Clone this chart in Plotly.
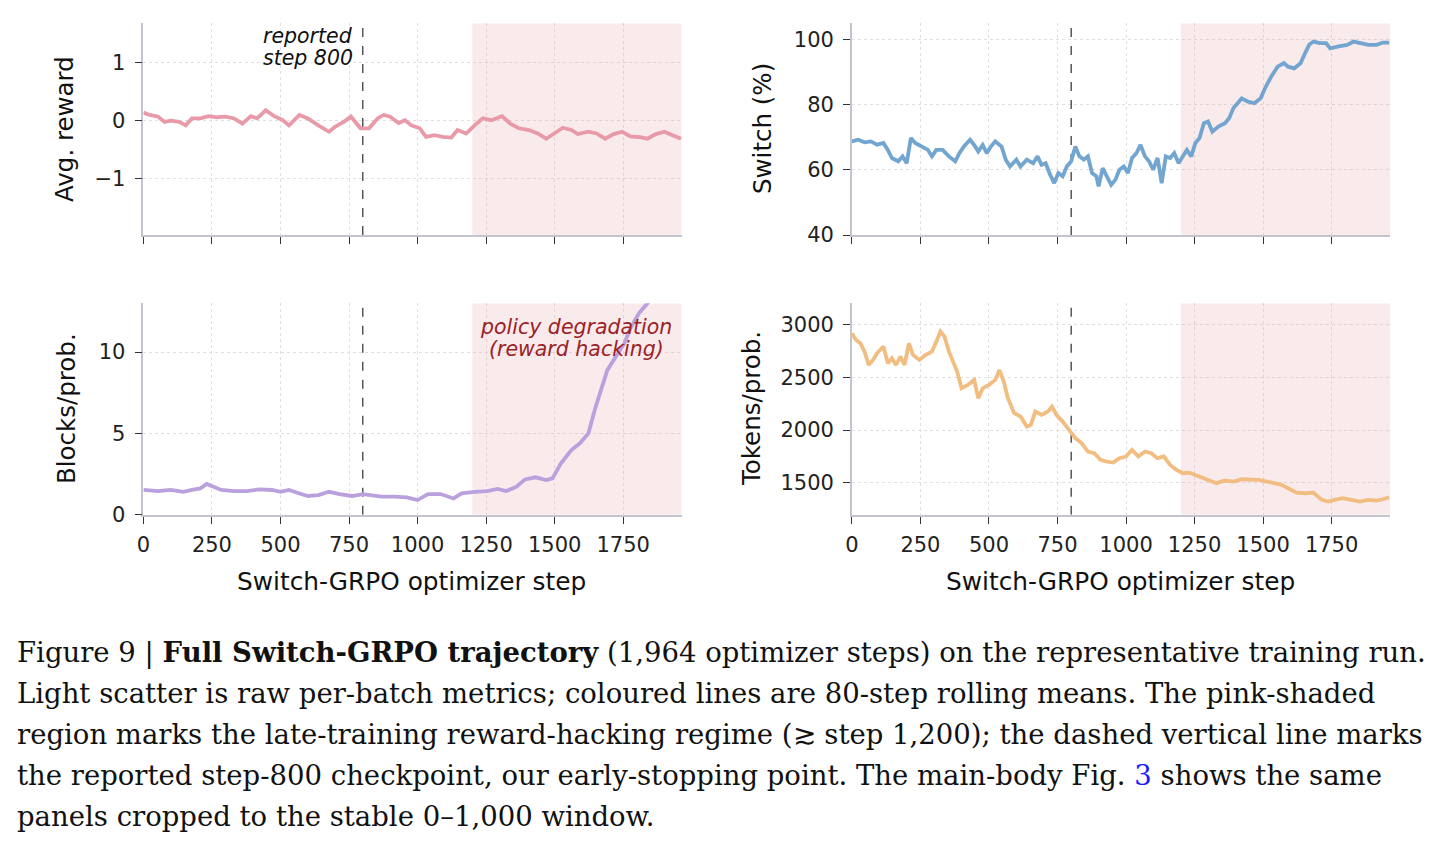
import plotly.graph_objects as go

W, H = 1448, 849

# ---------------- data (rolling means) ----------------
reward_steps = [0, 23, 54, 77, 100, 131, 154, 177, 208, 238, 269, 300, 331, 361, 392, 415, 446, 477, 508, 531,
                569, 600, 638, 677, 700, 731, 757, 792, 823, 854, 877, 900, 931, 954, 977, 1008, 1031, 1061, 1092,
                1123, 1146, 1177, 1208, 1238, 1269, 1308, 1338, 1369, 1407, 1438, 1469, 1500, 1530, 1561, 1584,
                1623, 1653, 1684, 1715, 1746, 1776, 1807, 1838, 1869, 1900, 1930, 1961]
reward_mean = [0.13, 0.09, 0.06, -0.03, -0.01, -0.03, -0.09, 0.03, 0.03, 0.07, 0.05, 0.06, 0.03, -0.06, 0.07,
               0.03, 0.17, 0.07, 0.0, -0.09, 0.09, 0.03, -0.09, -0.20, -0.11, -0.03, 0.06, -0.14, -0.14, 0.03,
               0.09, 0.06, -0.05, 0.0, -0.09, -0.14, -0.29, -0.26, -0.29, -0.30, -0.17, -0.23, -0.09, 0.03, 0.0,
               0.07, -0.06, -0.14, -0.17, -0.23, -0.32, -0.23, -0.13, -0.17, -0.24, -0.20, -0.23, -0.32, -0.24,
               -0.20, -0.28, -0.29, -0.32, -0.24, -0.20, -0.26, -0.32]

switch_steps = [0, 23, 46, 69, 92, 115, 131, 146, 169, 185, 200, 215, 231, 254, 277, 292, 308, 331, 354, 377,
                392, 408, 431, 446, 461, 477, 492, 507, 523, 546, 561, 577, 600, 615, 638, 661, 677, 692, 707, 723,
                738, 753, 769, 784, 800, 815, 830, 846, 861, 876, 892, 900, 915, 930, 946, 961, 976, 992, 1007,
                1022, 1038, 1053, 1069, 1084, 1099, 1115, 1130, 1145, 1161, 1176, 1192, 1207, 1222, 1238, 1253,
                1268, 1284, 1299, 1315, 1338, 1361, 1376, 1392, 1407, 1422, 1445, 1468, 1491, 1507, 1530, 1553,
                1576, 1591, 1614, 1637, 1653, 1668, 1684, 1707, 1730, 1745, 1776, 1807, 1830, 1853, 1884, 1914,
                1937, 1960]
switch_mean = [68.7, 69.2, 68.4, 68.7, 67.7, 68.2, 66.1, 63.6, 62.6, 64.1,
               62.0, 69.7, 68.2, 67.1, 66.1, 64.1, 66.1, 66.1, 64.1, 62.6,
               65.1, 67.1, 69.2, 67.6, 65.6, 67.6, 65.1, 67.1, 68.7, 67.1,
               63.1, 61.0, 63.1, 61.0, 63.1, 62.0, 64.1, 61.5, 62.0, 58.5,
               55.9, 59.0, 58.0, 61.0, 62.6, 67.1, 64.1, 63.1, 64.1, 59.0,
               58.0, 54.9, 60.5, 58.0, 55.4, 56.9, 60.0, 61.0, 59.0, 63.6,
               65.1, 67.6, 64.1, 62.6, 60.0, 63.6, 55.9, 64.1, 63.6, 65.1,
               62.0, 64.1, 66.1, 64.1, 68.2, 69.7, 74.3, 74.8, 71.7, 73.3,
               74.3, 75.8, 78.9, 80.4, 81.9, 80.9, 80.4, 81.9, 85.0, 88.6,
               91.6, 92.7, 91.6, 91.1, 92.7, 95.7, 98.3, 99.3, 98.8, 98.8,
               97.2, 97.8, 98.3, 99.3, 98.8, 98.3, 98.3, 99.0, 99.0]

blocks_steps = [0, 54, 100, 146, 177, 208, 231, 254, 284, 331, 377, 423, 469, 500, 531, 561, 600, 638, 677, 715,
                761, 800, 838, 869, 915, 961, 1000, 1038, 1084, 1131, 1161, 1207, 1254, 1292, 1323, 1361, 1392,
                1430, 1469, 1492, 1523, 1561, 1592, 1623, 1646, 1669, 1692, 1723, 1754, 1776, 1807, 1838, 1870,
                1910, 1963]
blocks_mean = [1.52, 1.45, 1.52, 1.41, 1.52, 1.62, 1.89, 1.72, 1.52, 1.45,
               1.45, 1.56, 1.52, 1.41, 1.52, 1.35, 1.15, 1.21, 1.41, 1.27,
               1.15, 1.27, 1.21, 1.11, 1.11, 1.07, 0.90, 1.27, 1.27, 1.00,
               1.31, 1.41, 1.45, 1.58, 1.45, 1.72, 2.17, 2.30, 2.13, 2.23,
               3.16, 3.98, 4.39, 5.00, 6.43, 7.66, 8.89, 9.71, 10.53, 11.45,
               12.38, 12.99, 13.8, 14.6, 15.5]

tokens_steps = [0, 15, 31, 46, 61, 77, 92, 115, 131, 146, 161, 177, 192, 208, 223, 246, 269, 292, 308, 323,
                338, 354, 369, 384, 400, 423, 446, 461, 477, 500, 523, 538, 554, 569, 592, 615, 638, 653, 669, 692,
                715, 730, 746, 769, 792, 815, 838, 861, 884, 907, 930, 953, 976, 1000, 1022, 1045, 1069, 1092,
                1115, 1138, 1161, 1184, 1207, 1230, 1253, 1284, 1307, 1330, 1361, 1392, 1422, 1453, 1484, 1515,
                1545, 1568, 1591, 1622, 1653, 1684, 1714, 1737, 1760, 1791, 1822, 1853, 1884, 1914, 1937, 1960]
tokens_mean = [2915, 2852, 2820, 2742, 2616, 2663, 2726, 2789, 2631, 2679,
               2616, 2694, 2616, 2820, 2710, 2663, 2710, 2742, 2836, 2931,
               2883, 2742, 2647, 2553, 2395, 2427, 2474, 2301, 2395, 2427,
               2474, 2568, 2458, 2301, 2159, 2128, 2033, 2049, 2175, 2143,
               2175, 2222, 2143, 2080, 2002, 1923, 1876, 1797, 1781, 1718,
               1702, 1693, 1734, 1750, 1813, 1750, 1797, 1781, 1734, 1750,
               1671, 1624, 1592, 1598, 1576, 1545, 1529, 1498, 1523, 1513,
               1535, 1535, 1529, 1513, 1498, 1482, 1450, 1409, 1403, 1409,
               1340, 1324, 1340, 1356, 1340, 1324, 1340, 1334, 1346, 1365]

x_ticks = [0, 250, 500, 750, 1000, 1250, 1500, 1750]
total_steps = 1963
hack_start = 1200
report_step = 800

caption_lines = [
    "Figure 9 | <b>Full Switch-GRPO trajectory</b> (1,964 optimizer steps) on the representative training run.",
    "Light scatter is raw per-batch metrics; coloured lines are 80-step rolling means. The pink-shaded",
    "region marks the late-training reward-hacking regime (≳ step 1,200); the dashed vertical line marks",
    "the reported step-800 checkpoint, our early-stopping point. The main-body Fig. <span style='color:#1a1aff'>3</span> shows the same",
    "panels cropped to the stable 0–1,000 window.",
]

# ---------------- layout helpers ----------------
def px_x(p):
    return p / W

def px_y(p):
    return 1 - p / H

XL = [px_x(143.4), px_x(681.6)]
XR = [px_x(851.9), px_x(1390.0)]
YT = [px_y(235.0), px_y(23.3)]
YB = [px_y(514.7), px_y(303.3)]

FONT = "DejaVu Sans"
SPINE = "#c4c4cf"
GRID = "#e0e0e0"

panels = [
    ("x", "y", XL, YT, reward_steps, reward_mean, "#e89aa8", [-1.98, 1.67], [-1, 0, 1], False),
    ("x2", "y2", XR, YT, switch_steps, switch_mean, "#72a5cf", [40, 104.9], [40, 60, 80, 100], False),
    ("x3", "y3", XL, YB, blocks_steps, blocks_mean, "#bba0de", [0, 13.0], [0, 5, 10], True),
    ("x4", "y4", XR, YB, tokens_steps, tokens_mean, "#f2bd80", [1200, 3198], [1500, 2000, 2500, 3000], True),
]

fig = go.Figure()
layout = dict(
    width=W, height=H, margin=dict(l=0, r=0, t=0, b=0, pad=0, autoexpand=False),
    paper_bgcolor="white", plot_bgcolor="white", showlegend=False,
    font=dict(family=FONT, size=20, color="#222222"),
)
annotations = []

for i, (xa, ya, xd, yd, xs, ys, col, yr, yt, showx) in enumerate(panels):
    n = "" if i == 0 else str(i + 1)
    fig.add_trace(go.Scatter(x=[hack_start, total_steps, total_steps, hack_start, hack_start],
                             y=[yr[0], yr[0], yr[1], yr[1], yr[0]], mode="lines", fill="toself",
                             fillcolor="rgba(225,150,160,0.2)", line=dict(width=0),
                             xaxis=xa, yaxis=ya, hoverinfo="skip"))
    fig.add_trace(go.Scatter(x=[report_step, report_step], y=[yr[0], yr[1]], mode="lines",
                             line=dict(color="#555555", width=1.5, dash="dash"),
                             xaxis=xa, yaxis=ya, hoverinfo="skip"))
    fig.add_trace(go.Scatter(x=xs, y=ys, mode="lines", xaxis=xa, yaxis=ya,
                             line=dict(color=col, width=3.8), hoverinfo="skip"))
    layout["xaxis" + n] = dict(
        domain=xd, anchor=ya, range=[0, total_steps], tickvals=x_ticks, automargin=False,
        showticklabels=showx, ticks="outside", ticklen=7, tickwidth=1.3, tickcolor="#333333",
        showline=True, linecolor=SPINE, linewidth=1.6, zeroline=False,
        showgrid=True, gridcolor=GRID, griddash="dot", gridwidth=1,
        tickfont=dict(size=21, family=FONT, color="#222222"), ticklabelstandoff=3,
    )
    ydict = dict(
        domain=yd, anchor=xa, range=yr, tickvals=yt, automargin=False,
        ticks="outside", ticklen=7, tickwidth=1.3, tickcolor="#333333",
        showline=True, linecolor=SPINE, linewidth=1.6, zeroline=False,
        showgrid=True, gridcolor=GRID, griddash="dot", gridwidth=1,
        tickfont=dict(size=21, family=FONT, color="#222222"), ticklabelstandoff=5,
    )
    if i in (1, 3):
        ydict["tickformat"] = "d"
    layout["yaxis" + n] = ydict

for text, xp, yp in [("Avg. reward", 65, 129), ("Switch (%)", 763, 129),
                     ("Blocks/prob.", 66, 409), ("Tokens/prob.", 751, 409)]:
    annotations.append(dict(text=text, x=px_x(xp), y=px_y(yp), xref="paper", yref="paper",
                            showarrow=False, textangle=-90, xanchor="center", yanchor="middle",
                            font=dict(size=24.5, family=FONT, color="#111111")))
for xp in (411, 1120):
    annotations.append(dict(text="Switch-GRPO optimizer step", x=px_x(xp), y=px_y(581),
                            xref="paper", yref="paper", showarrow=False,
                            xanchor="center", yanchor="middle",
                            font=dict(size=24.8, family=FONT, color="#111111")))

for text, xp, yp, anchor, col in [("reported", 355, 36, "right", "#111111"),
                                  ("step 800", 355, 58, "right", "#111111"),
                                  ("policy degradation", 576, 327, "center", "#9b2226"),
                                  ("(reward hacking)", 576, 349, "center", "#9b2226")]:
    annotations.append(dict(text="<i>" + text + "</i>", x=px_x(xp), y=px_y(yp), xref="paper", yref="paper",
                            showarrow=False, xanchor=anchor, yanchor="middle",
                            font=dict(size=20.5, family=FONT, color=col)))

for k, line in enumerate(caption_lines):
    annotations.append(dict(text=line, x=px_x(15), y=px_y(652 + 41 * k), xref="paper", yref="paper",
                            showarrow=False, xanchor="left", yanchor="middle", align="left",
                            font=dict(size=27.5, family="DejaVu Serif", color="#111111")))

layout["annotations"] = annotations
fig.update_layout(**layout)
fig.write_html("out.html")
